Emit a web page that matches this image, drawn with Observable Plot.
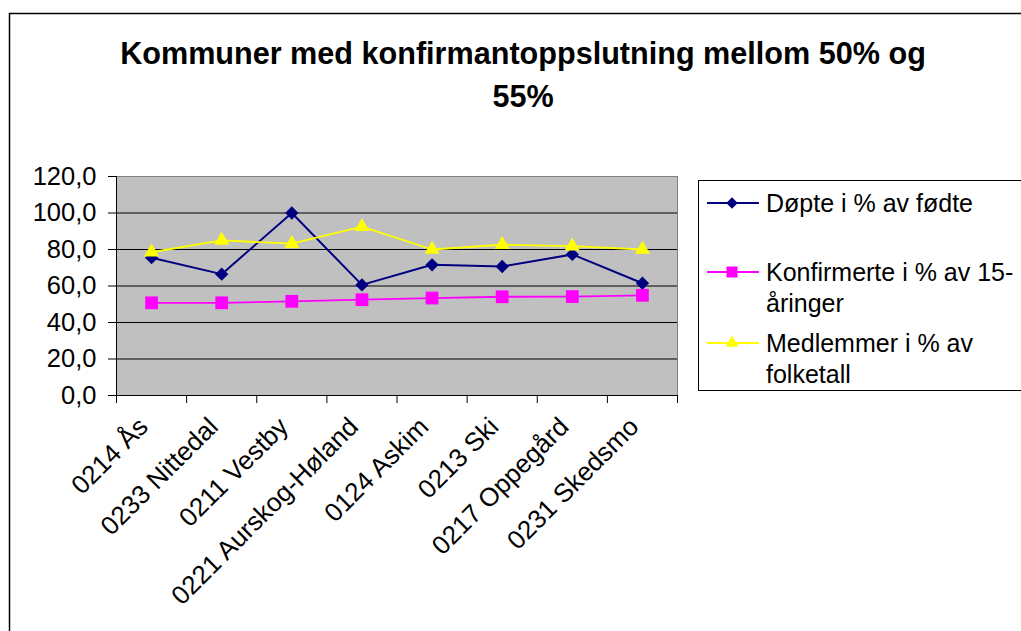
<!DOCTYPE html>
<html><head><meta charset="utf-8">
<script src="https://cdn.jsdelivr.net/npm/d3@7"></script>
<script src="https://cdn.jsdelivr.net/npm/@observablehq/plot@0.6"></script>
<style>
body{margin:0;background:#fff;}
#wrap{position:relative;width:1021px;height:631px;overflow:hidden;font-family:"Liberation Sans",Arial,sans-serif;background:#fff;}
#wrap > svg{position:absolute;left:0;top:0;}
</style></head><body><div id="wrap"></div>
<script>
const categories = ["0214 Ås","0233 Nittedal","0211 Vestby","0221 Aurskog-Høland","0124 Askim","0213 Ski","0217 Oppegård","0231 Skedsmo"];
const seriesNames = ["Døpte i % av fødte","Konfirmerte i % av 15-åringer","Medlemmer i % av folketall"];
const dopte       = [75.5, 66.5, 100.0, 60.6, 71.6, 70.7, 77.3, 61.5];
const konfirmerte = [50.8, 50.8, 51.6, 52.5, 53.4, 54.1, 54.2, 54.9];
const medlemmer   = [78.5, 85.0, 83.2, 92.5, 80.0, 82.6, 81.8, 80.0];
const yTicks = [0, 20, 40, 60, 80, 100, 120];
const titleLines = ["Kommuner med konfirmantoppslutning mellom 50% og", "55%"];
const legendLines = [["Døpte i % av fødte"], ["Konfirmerte i % av 15-", "åringer"], ["Medlemmer i % av", "folketall"]];
const colors = ["#000080", "#FF00FF", "#FFFF00"];
const symbols = ["diamond2", "square", "triangle"];
const symbolR = [6.0, 7.2, 5.6];
const lineW = [2, 1.8, 1.8];

const values = [dopte, konfirmerte, medlemmer];
const rows = values.flatMap((vals, s) => vals.map((v, i) => ({series: seriesNames[s], s, xi: i + 0.5, v})));
const fmt = d => d3.format(".1f")(d).replace(".", ",");
const font = '"Liberation Sans", Arial, sans-serif';

const W = 1021, H = 631;
const marks = [
  Plot.frame({fill: "#C0C0C0", stroke: "#808080"}),
  Plot.gridY(yTicks.filter(d => d > 0 && d < 120), {stroke: "#000", strokeOpacity: 1}),
  Plot.ruleY([0], {stroke: "#000"}),
  Plot.ruleX([0], {stroke: "#000"}),
  Plot.axisY({ticks: yTicks, tickFormat: fmt, tickSize: 8, tickPadding: 12, label: null, fontSize: 25.5}),
  Plot.axisX({ticks: d3.range(0, categories.length + 1), tickSize: 8, tickFormat: () => "", label: null}),
  Plot.axisX({ticks: categories.map((c, i) => i + 0.5), tickSize: 0, tickPadding: 27, dx: -8,
              tickFormat: d => categories[Math.floor(d)], tickRotate: -45, label: null, fontSize: 26})
];
seriesNames.forEach((name, s) => {
  const d = rows.filter(r => r.s === s);
  marks.push(Plot.line(d, {x: "xi", y: "v", stroke: colors[s], strokeWidth: lineW[s]}));
  marks.push(Plot.dot(d, {x: "xi", y: "v", symbol: symbols[s], r: symbolR[s], fill: colors[s], stroke: "none"}));
});

const chart = Plot.plot({
  width: W, height: H,
  marginLeft: 116, marginRight: W - 677, marginTop: 176, marginBottom: H - 395,
  x: {domain: [0, categories.length], type: "linear"},
  y: {domain: [0, 120], type: "linear"},
  style: {fontFamily: font, fontSize: "25px", color: "#000", background: "transparent", overflow: "visible"},
  marks
});
const wrap = document.getElementById("wrap");
wrap.appendChild(chart);

// Overlay: outer border, title, legend
const ov = d3.select(wrap).append("svg").attr("width", W).attr("height", H)
  .style("font-family", font);
ov.append("rect").attr("x", 9.5).attr("y", 13.5).attr("width", 1100).attr("height", 700)
  .attr("fill", "none").attr("stroke", "#000").attr("stroke-width", 1.5);
ov.selectAll("text.title").data(titleLines).join("text").attr("class", "title")
  .attr("x", 523).attr("y", (d, i) => 64 + i * 43).attr("text-anchor", "middle")
  .attr("font-weight", "bold").attr("font-size", 30.6).attr("fill", "#000").text(d => d);

const lg = ov.append("g");
lg.append("rect").attr("x", 698.5).attr("y", 180.5).attr("width", 400).attr("height", 210)
  .attr("fill", "#fff").attr("stroke", "#000").attr("stroke-width", 1);
const rowY = [203, 272, 343];
legendLines.forEach((lines, s) => {
  const y = rowY[s];
  lg.append("line").attr("x1", 707).attr("x2", 759).attr("y1", y).attr("y2", y)
    .attr("stroke", colors[s]).attr("stroke-width", lineW[s]);
  const sym = {diamond2: d3.symbolDiamond2, square: d3.symbolSquare, triangle: d3.symbolTriangle}[symbols[s]];
  lg.append("path").attr("transform", `translate(732,${y})`)
    .attr("d", d3.symbol(sym, Math.PI * symbolR[s] * symbolR[s] * 0.75)()).attr("fill", colors[s]);
  lines.forEach((t, j) => {
    lg.append("text").attr("x", 766).attr("y", y + 9 + j * 30.5).attr("font-size", 25)
      .attr("fill", "#000").text(t);
  });
});
</script></body></html>
